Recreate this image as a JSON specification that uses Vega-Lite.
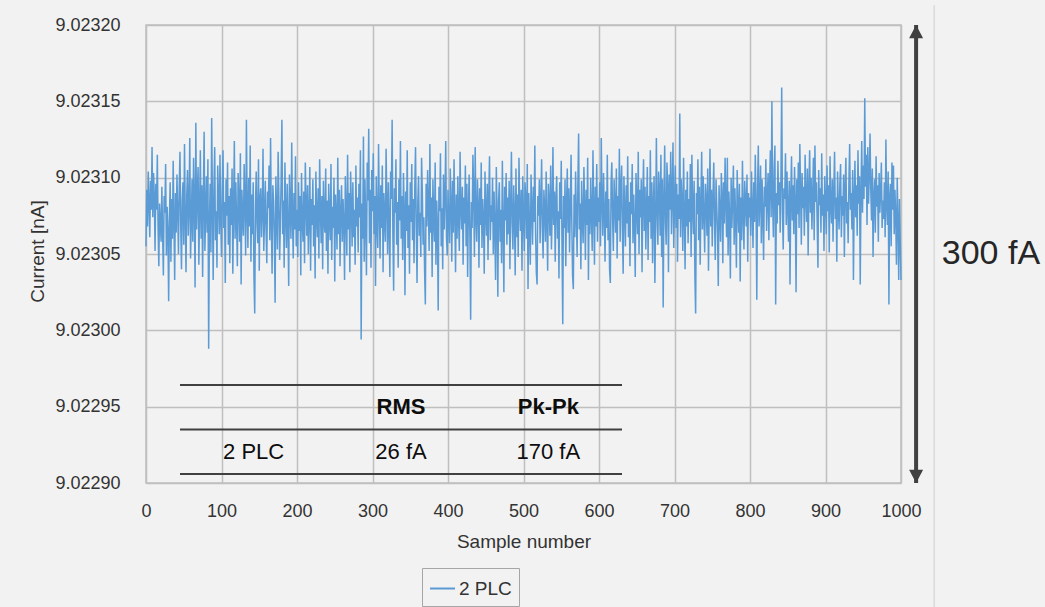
{
"$schema": "https://vega.github.io/schema/vega-lite/v6.json",
"width": 755,
"height": 458,
"autosize": {"type": "none"},
"padding": {"left": 146, "top": 25, "right": 144, "bottom": 124},
"background": "#f2f2f2",
"config": {"view": {"stroke": "#bfbfbf", "strokeWidth": 1.5}, "font": "Liberation Sans"},
"datasets": {
"trace": [
{"s":0,"c":9.023055},{"s":1,"c":9.023092},{"s":2,"c":9.023068},{"s":3,"c":9.023104},{"s":4,"c":9.023084},{"s":5,"c":9.023061},{"s":6,"c":9.023098},{"s":7,"c":9.023079},{"s":8,"c":9.02312},{"s":9,"c":9.023074},{"s":10,"c":9.023103},{"s":11,"c":9.023088},{"s":12,"c":9.023052},{"s":13,"c":9.023096},{"s":14,"c":9.023079},{"s":15,"c":9.023115},{"s":16,"c":9.023067},{"s":17,"c":9.023042},{"s":18,"c":9.023083},{"s":19,"c":9.023071},
{"s":20,"c":9.023058},{"s":21,"c":9.023094},{"s":22,"c":9.023063},{"s":23,"c":9.023036},{"s":24,"c":9.023088},{"s":25,"c":9.023077},{"s":26,"c":9.023109},{"s":27,"c":9.023049},{"s":28,"c":9.023081},{"s":29,"c":9.023066},{"s":30,"c":9.023019},{"s":31,"c":9.023072},{"s":32,"c":9.023097},{"s":33,"c":9.023045},{"s":34,"c":9.023086},{"s":35,"c":9.02306},{"s":36,"c":9.023111},{"s":37,"c":9.023071},{"s":38,"c":9.023033},{"s":39,"c":9.02309},
{"s":40,"c":9.023064},{"s":41,"c":9.023102},{"s":42,"c":9.023078},{"s":43,"c":9.02305},{"s":44,"c":9.023093},{"s":45,"c":9.023117},{"s":46,"c":9.023069},{"s":47,"c":9.02304},{"s":48,"c":9.023085},{"s":49,"c":9.023097},{"s":50,"c":9.023056},{"s":51,"c":9.023122},{"s":52,"c":9.023074},{"s":53,"c":9.023038},{"s":54,"c":9.023089},{"s":55,"c":9.023105},{"s":56,"c":9.023062},{"s":57,"c":9.023081},{"s":58,"c":9.023126},{"s":59,"c":9.023047},
{"s":60,"c":9.02307},{"s":61,"c":9.023099},{"s":62,"c":9.023058},{"s":63,"c":9.023113},{"s":64,"c":9.023084},{"s":65,"c":9.023028},{"s":66,"c":9.023136},{"s":67,"c":9.023066},{"s":68,"c":9.023091},{"s":69,"c":9.023107},{"s":70,"c":9.023043},{"s":71,"c":9.02308},{"s":72,"c":9.023118},{"s":73,"c":9.02306},{"s":74,"c":9.023095},{"s":75,"c":9.023035},{"s":76,"c":9.023087},{"s":77,"c":9.02313},{"s":78,"c":9.023052},{"s":79,"c":9.023076},
{"s":80,"c":9.023101},{"s":81,"c":9.023064},{"s":82,"c":9.023112},{"s":83,"c":9.022988},{"s":84,"c":9.02307},{"s":85,"c":9.023096},{"s":86,"c":9.023051},{"s":87,"c":9.023139},{"s":88,"c":9.023082},{"s":89,"c":9.023033},{"s":90,"c":9.023094},{"s":91,"c":9.02312},{"s":92,"c":9.023059},{"s":93,"c":9.023078},{"s":94,"c":9.023041},{"s":95,"c":9.023108},{"s":96,"c":9.023086},{"s":97,"c":9.023063},{"s":98,"c":9.023115},{"s":99,"c":9.023072},
{"s":100,"c":9.023048},{"s":101,"c":9.02309},{"s":102,"c":9.023118},{"s":103,"c":9.023067},{"s":104,"c":9.023084},{"s":105,"c":9.023031},{"s":106,"c":9.023099},{"s":107,"c":9.023075},{"s":108,"c":9.02311},{"s":109,"c":9.023056},{"s":110,"c":9.023088},{"s":111,"c":9.023044},{"s":112,"c":9.023093},{"s":113,"c":9.023069},{"s":114,"c":9.023106},{"s":115,"c":9.023037},{"s":116,"c":9.02308},{"s":117,"c":9.023124},{"s":118,"c":9.02306},{"s":119,"c":9.023097},
{"s":120,"c":9.023071},{"s":121,"c":9.023042},{"s":122,"c":9.023103},{"s":123,"c":9.023085},{"s":124,"c":9.023058},{"s":125,"c":9.023116},{"s":126,"c":9.02303},{"s":127,"c":9.023092},{"s":128,"c":9.023074},{"s":129,"c":9.023062},{"s":130,"c":9.023109},{"s":131,"c":9.023083},{"s":132,"c":9.023049},{"s":133,"c":9.023138},{"s":134,"c":9.023077},{"s":135,"c":9.023054},{"s":136,"c":9.0231},{"s":137,"c":9.023068},{"s":138,"c":9.023121},{"s":139,"c":9.023045},
{"s":140,"c":9.023089},{"s":141,"c":9.023063},{"s":142,"c":9.023097},{"s":143,"c":9.023035},{"s":144,"c":9.023011},{"s":145,"c":9.023082},{"s":146,"c":9.023104},{"s":147,"c":9.02307},{"s":148,"c":9.023057},{"s":149,"c":9.023112},{"s":150,"c":9.023039},{"s":151,"c":9.023086},{"s":152,"c":9.023093},{"s":153,"c":9.023061},{"s":154,"c":9.023077},{"s":155,"c":9.023119},{"s":156,"c":9.023052},{"s":157,"c":9.023073},{"s":158,"c":9.023098},{"s":159,"c":9.023066},
{"s":160,"c":9.023044},{"s":161,"c":9.023091},{"s":162,"c":9.02308},{"s":163,"c":9.023108},{"s":164,"c":9.023059},{"s":165,"c":9.023126},{"s":166,"c":9.023072},{"s":167,"c":9.023037},{"s":168,"c":9.023095},{"s":169,"c":9.023084},{"s":170,"c":9.023062},{"s":171,"c":9.023018},{"s":172,"c":9.023101},{"s":173,"c":9.023076},{"s":174,"c":9.023053},{"s":175,"c":9.023117},{"s":176,"c":9.023088},{"s":177,"c":9.023046},{"s":178,"c":9.02307},{"s":179,"c":9.023099},
{"s":180,"c":9.023138},{"s":181,"c":9.023063},{"s":182,"c":9.023085},{"s":183,"c":9.023041},{"s":184,"c":9.02311},{"s":185,"c":9.023077},{"s":186,"c":9.023054},{"s":187,"c":9.023096},{"s":188,"c":9.023068},{"s":189,"c":9.023029},{"s":190,"c":9.023102},{"s":191,"c":9.023081},{"s":192,"c":9.02306},{"s":193,"c":9.023123},{"s":194,"c":9.023074},{"s":195,"c":9.023047},{"s":196,"c":9.02309},{"s":197,"c":9.023066},{"s":198,"c":9.023114},{"s":199,"c":9.023055},
{"s":200,"c":9.023079},{"s":201,"c":9.023048},{"s":202,"c":9.023097},{"s":203,"c":9.023065},{"s":204,"c":9.023088},{"s":205,"c":9.023036},{"s":206,"c":9.023103},{"s":207,"c":9.023072},{"s":208,"c":9.023058},{"s":209,"c":9.023091},{"s":210,"c":9.023044},{"s":211,"c":9.02311},{"s":212,"c":9.023083},{"s":213,"c":9.023062},{"s":214,"c":9.023095},{"s":215,"c":9.02305},{"s":216,"c":9.023076},{"s":217,"c":9.023107},{"s":218,"c":9.023039},{"s":219,"c":9.023086},
{"s":220,"c":9.023069},{"s":221,"c":9.023099},{"s":222,"c":9.023055},{"s":223,"c":9.023082},{"s":224,"c":9.023034},{"s":225,"c":9.023104},{"s":226,"c":9.023074},{"s":227,"c":9.023061},{"s":228,"c":9.023093},{"s":229,"c":9.023047},{"s":230,"c":9.023112},{"s":231,"c":9.02308},{"s":232,"c":9.023057},{"s":233,"c":9.023088},{"s":234,"c":9.02304},{"s":235,"c":9.023098},{"s":236,"c":9.023071},{"s":237,"c":9.023064},{"s":238,"c":9.023106},{"s":239,"c":9.023052},
{"s":240,"c":9.023085},{"s":241,"c":9.023037},{"s":242,"c":9.023096},{"s":243,"c":9.023073},{"s":244,"c":9.023059},{"s":245,"c":9.023109},{"s":246,"c":9.023046},{"s":247,"c":9.023081},{"s":248,"c":9.023067},{"s":249,"c":9.0231},{"s":250,"c":9.023032},{"s":251,"c":9.023089},{"s":252,"c":9.023075},{"s":253,"c":9.023053},{"s":254,"c":9.023113},{"s":255,"c":9.023063},{"s":256,"c":9.023092},{"s":257,"c":9.023042},{"s":258,"c":9.023078},{"s":259,"c":9.023095},
{"s":260,"c":9.023058},{"s":261,"c":9.023086},{"s":262,"c":9.02307},{"s":263,"c":9.023033},{"s":264,"c":9.023101},{"s":265,"c":9.023077},{"s":266,"c":9.023049},{"s":267,"c":9.023115},{"s":268,"c":9.023066},{"s":269,"c":9.02309},{"s":270,"c":9.023038},{"s":271,"c":9.023104},{"s":272,"c":9.023082},{"s":273,"c":9.023055},{"s":274,"c":9.023097},{"s":275,"c":9.023061},{"s":276,"c":9.023079},{"s":277,"c":9.023043},{"s":278,"c":9.023108},{"s":279,"c":9.023068},
{"s":280,"c":9.023087},{"s":281,"c":9.023051},{"s":282,"c":9.023096},{"s":283,"c":9.023074},{"s":284,"c":9.023118},{"s":285,"c":9.022994},{"s":286,"c":9.023083},{"s":287,"c":9.02306},{"s":288,"c":9.023127},{"s":289,"c":9.023045},{"s":290,"c":9.023099},{"s":291,"c":9.023072},{"s":292,"c":9.023036},{"s":293,"c":9.02311},{"s":294,"c":9.023085},{"s":295,"c":9.023132},{"s":296,"c":9.023057},{"s":297,"c":9.023092},{"s":298,"c":9.023041},{"s":299,"c":9.023105},
{"s":300,"c":9.023078},{"s":301,"c":9.023116},{"s":302,"c":9.023063},{"s":303,"c":9.023088},{"s":304,"c":9.023029},{"s":305,"c":9.023101},{"s":306,"c":9.02307},{"s":307,"c":9.023054},{"s":308,"c":9.023122},{"s":309,"c":9.023081},{"s":310,"c":9.023047},{"s":311,"c":9.023095},{"s":312,"c":9.023067},{"s":313,"c":9.023108},{"s":314,"c":9.023038},{"s":315,"c":9.02309},{"s":316,"c":9.023074},{"s":317,"c":9.023058},{"s":318,"c":9.023119},{"s":319,"c":9.023083},
{"s":320,"c":9.02305},{"s":321,"c":9.023097},{"s":322,"c":9.023069},{"s":323,"c":9.023035},{"s":324,"c":9.023104},{"s":325,"c":9.023086},{"s":326,"c":9.023138},{"s":327,"c":9.023062},{"s":328,"c":9.023026},{"s":329,"c":9.023093},{"s":330,"c":9.023077},{"s":331,"c":9.023112},{"s":332,"c":9.023056},{"s":333,"c":9.023084},{"s":334,"c":9.023041},{"s":335,"c":9.023099},{"s":336,"c":9.023072},{"s":337,"c":9.023124},{"s":338,"c":9.02306},{"s":339,"c":9.023088},
{"s":340,"c":9.023046},{"s":341,"c":9.023103},{"s":342,"c":9.023079},{"s":343,"c":9.023023},{"s":344,"c":9.023091},{"s":345,"c":9.023065},{"s":346,"c":9.023118},{"s":347,"c":9.023054},{"s":348,"c":9.023082},{"s":349,"c":9.023037},{"s":350,"c":9.023097},{"s":351,"c":9.023071},{"s":352,"c":9.023109},{"s":353,"c":9.023059},{"s":354,"c":9.023086},{"s":355,"c":9.023044},{"s":356,"c":9.023093},{"s":357,"c":9.02312},{"s":358,"c":9.023067},{"s":359,"c":9.023031},
{"s":360,"c":9.023084},{"s":361,"c":9.023101},{"s":362,"c":9.023062},{"s":363,"c":9.023077},{"s":364,"c":9.023048},{"s":365,"c":9.023113},{"s":366,"c":9.02309},{"s":367,"c":9.023056},{"s":368,"c":9.023074},{"s":369,"c":9.023039},{"s":370,"c":9.023017},{"s":371,"c":9.023096},{"s":372,"c":9.023068},{"s":373,"c":9.023105},{"s":374,"c":9.023081},{"s":375,"c":9.023052},{"s":376,"c":9.023122},{"s":377,"c":9.023064},{"s":378,"c":9.023087},{"s":379,"c":9.023035},
{"s":380,"c":9.023099},{"s":381,"c":9.023073},{"s":382,"c":9.023058},{"s":383,"c":9.02311},{"s":384,"c":9.023043},{"s":385,"c":9.023085},{"s":386,"c":9.023069},{"s":387,"c":9.023013},{"s":388,"c":9.023094},{"s":389,"c":9.023078},{"s":390,"c":9.023116},{"s":391,"c":9.023055},{"s":392,"c":9.02308},{"s":393,"c":9.02304},{"s":394,"c":9.023102},{"s":395,"c":9.023066},{"s":396,"c":9.023088},{"s":397,"c":9.023124},{"s":398,"c":9.023061},{"s":399,"c":9.023049},
{"s":400,"c":9.023092},{"s":401,"c":9.023071},{"s":402,"c":9.023057},{"s":403,"c":9.023106},{"s":404,"c":9.023083},{"s":405,"c":9.023045},{"s":406,"c":9.023098},{"s":407,"c":9.023064},{"s":408,"c":9.023112},{"s":409,"c":9.023076},{"s":410,"c":9.023038},{"s":411,"c":9.023089},{"s":412,"c":9.02306},{"s":413,"c":9.023101},{"s":414,"c":9.023073},{"s":415,"c":9.023052},{"s":416,"c":9.023117},{"s":417,"c":9.02308},{"s":418,"c":9.023066},{"s":419,"c":9.023094},
{"s":420,"c":9.023043},{"s":421,"c":9.023087},{"s":422,"c":9.02307},{"s":423,"c":9.023108},{"s":424,"c":9.023055},{"s":425,"c":9.023096},{"s":426,"c":9.023035},{"s":427,"c":9.023079},{"s":428,"c":9.023102},{"s":429,"c":9.023061},{"s":430,"c":9.023007},{"s":431,"c":9.023084},{"s":432,"c":9.023067},{"s":433,"c":9.023115},{"s":434,"c":9.02309},{"s":435,"c":9.023048},{"s":436,"c":9.02312},{"s":437,"c":9.023074},{"s":438,"c":9.023058},{"s":439,"c":9.023099},
{"s":440,"c":9.023081},{"s":441,"c":9.023041},{"s":442,"c":9.023093},{"s":443,"c":9.023069},{"s":444,"c":9.02311},{"s":445,"c":9.023054},{"s":446,"c":9.023086},{"s":447,"c":9.023073},{"s":448,"c":9.023037},{"s":449,"c":9.023104},{"s":450,"c":9.023077},{"s":451,"c":9.023062},{"s":452,"c":9.023096},{"s":453,"c":9.023046},{"s":454,"c":9.023088},{"s":455,"c":9.023114},{"s":456,"c":9.023059},{"s":457,"c":9.023082},{"s":458,"c":9.023071},{"s":459,"c":9.0231},
{"s":460,"c":9.02305},{"s":461,"c":9.023091},{"s":462,"c":9.023066},{"s":463,"c":9.023033},{"s":464,"c":9.023107},{"s":465,"c":9.023075},{"s":466,"c":9.023022},{"s":467,"c":9.023085},{"s":468,"c":9.023097},{"s":469,"c":9.023058},{"s":470,"c":9.023079},{"s":471,"c":9.023044},{"s":472,"c":9.023111},{"s":473,"c":9.023068},{"s":474,"c":9.023025},{"s":475,"c":9.023094},{"s":476,"c":9.023072},{"s":477,"c":9.023103},{"s":478,"c":9.023056},{"s":479,"c":9.023087},
{"s":480,"c":9.023063},{"s":481,"c":9.023098},{"s":482,"c":9.02304},{"s":483,"c":9.023082},{"s":484,"c":9.023117},{"s":485,"c":9.02307},{"s":486,"c":9.023053},{"s":487,"c":9.023095},{"s":488,"c":9.023076},{"s":489,"c":9.023036},{"s":490,"c":9.023106},{"s":491,"c":9.023061},{"s":492,"c":9.023089},{"s":493,"c":9.023048},{"s":494,"c":9.023113},{"s":495,"c":9.02308},{"s":496,"c":9.023065},{"s":497,"c":9.023092},{"s":498,"c":9.023039},{"s":499,"c":9.023101},
{"s":500,"c":9.023074},{"s":501,"c":9.023052},{"s":502,"c":9.023097},{"s":503,"c":9.023085},{"s":504,"c":9.02306},{"s":505,"c":9.023109},{"s":506,"c":9.023027},{"s":507,"c":9.02309},{"s":508,"c":9.023068},{"s":509,"c":9.023043},{"s":510,"c":9.023102},{"s":511,"c":9.023079},{"s":512,"c":9.023056},{"s":513,"c":9.023094},{"s":514,"c":9.023071},{"s":515,"c":9.023121},{"s":516,"c":9.023064},{"s":517,"c":9.023038},{"s":518,"c":9.02303},{"s":519,"c":9.023088},
{"s":520,"c":9.023075},{"s":521,"c":9.023099},{"s":522,"c":9.023057},{"s":523,"c":9.023083},{"s":524,"c":9.023112},{"s":525,"c":9.023066},{"s":526,"c":9.023047},{"s":527,"c":9.023092},{"s":528,"c":9.02308},{"s":529,"c":9.023058},{"s":530,"c":9.023104},{"s":531,"c":9.023071},{"s":532,"c":9.023039},{"s":533,"c":9.023096},{"s":534,"c":9.023084},{"s":535,"c":9.023062},{"s":536,"c":9.023108},{"s":537,"c":9.023053},{"s":538,"c":9.023077},{"s":539,"c":9.02312},
{"s":540,"c":9.023069},{"s":541,"c":9.023091},{"s":542,"c":9.023045},{"s":543,"c":9.023086},{"s":544,"c":9.023101},{"s":545,"c":9.02306},{"s":546,"c":9.023078},{"s":547,"c":9.023034},{"s":548,"c":9.023097},{"s":549,"c":9.023073},{"s":550,"c":9.023111},{"s":551,"c":9.023056},{"s":552,"c":9.023004},{"s":553,"c":9.023088},{"s":554,"c":9.023067},{"s":555,"c":9.023099},{"s":556,"c":9.023042},{"s":557,"c":9.023082},{"s":558,"c":9.023106},{"s":559,"c":9.023064},
{"s":560,"c":9.023093},{"s":561,"c":9.023051},{"s":562,"c":9.023079},{"s":563,"c":9.023115},{"s":564,"c":9.02307},{"s":565,"c":9.023036},{"s":566,"c":9.023027},{"s":567,"c":9.023089},{"s":568,"c":9.023061},{"s":569,"c":9.023104},{"s":570,"c":9.023076},{"s":571,"c":9.023048},{"s":572,"c":9.023095},{"s":573,"c":9.023129},{"s":574,"c":9.023066},{"s":575,"c":9.023083},{"s":576,"c":9.02304},{"s":577,"c":9.023098},{"s":578,"c":9.023072},{"s":579,"c":9.023057},
{"s":580,"c":9.023107},{"s":581,"c":9.023081},{"s":582,"c":9.023046},{"s":583,"c":9.023092},{"s":584,"c":9.023069},{"s":585,"c":9.023113},{"s":586,"c":9.023033},{"s":587,"c":9.023086},{"s":588,"c":9.023063},{"s":589,"c":9.0231},{"s":590,"c":9.023075},{"s":591,"c":9.023052},{"s":592,"c":9.023118},{"s":593,"c":9.02308},{"s":594,"c":9.023043},{"s":595,"c":9.023094},{"s":596,"c":9.023068},{"s":597,"c":9.023109},{"s":598,"c":9.023058},{"s":599,"c":9.023087},
{"s":600,"c":9.023071},{"s":601,"c":9.023097},{"s":602,"c":9.023055},{"s":603,"c":9.023126},{"s":604,"c":9.023084},{"s":605,"c":9.023062},{"s":606,"c":9.023103},{"s":607,"c":9.023078},{"s":608,"c":9.023045},{"s":609,"c":9.023091},{"s":610,"c":9.023067},{"s":611,"c":9.023115},{"s":612,"c":9.023059},{"s":613,"c":9.023086},{"s":614,"c":9.02304},{"s":615,"c":9.023031},{"s":616,"c":9.023096},{"s":617,"c":9.02311},{"s":618,"c":9.023073},{"s":619,"c":9.023052},
{"s":620,"c":9.023099},{"s":621,"c":9.023082},{"s":622,"c":9.023064},{"s":623,"c":9.023106},{"s":624,"c":9.023047},{"s":625,"c":9.023088},{"s":626,"c":9.023072},{"s":627,"c":9.023119},{"s":628,"c":9.023058},{"s":629,"c":9.023093},{"s":630,"c":9.023108},{"s":631,"c":9.023066},{"s":632,"c":9.023037},{"s":633,"c":9.023101},{"s":634,"c":9.023079},{"s":635,"c":9.023055},{"s":636,"c":9.023095},{"s":637,"c":9.02307},{"s":638,"c":9.023114},{"s":639,"c":9.023061},
{"s":640,"c":9.023084},{"s":641,"c":9.023042},{"s":642,"c":9.023097},{"s":643,"c":9.023076},{"s":644,"c":9.023109},{"s":645,"c":9.023057},{"s":646,"c":9.023089},{"s":647,"c":9.023068},{"s":648,"c":9.023035},{"s":649,"c":9.023103},{"s":650,"c":9.023081},{"s":651,"c":9.023063},{"s":652,"c":9.023117},{"s":653,"c":9.02305},{"s":654,"c":9.023092},{"s":655,"c":9.023074},{"s":656,"c":9.023099},{"s":657,"c":9.023038},{"s":658,"c":9.023086},{"s":659,"c":9.023112},
{"s":660,"c":9.023065},{"s":661,"c":9.023094},{"s":662,"c":9.023053},{"s":663,"c":9.02308},{"s":664,"c":9.023107},{"s":665,"c":9.023046},{"s":666,"c":9.023088},{"s":667,"c":9.023071},{"s":668,"c":9.023118},{"s":669,"c":9.02306},{"s":670,"c":9.023097},{"s":671,"c":9.023044},{"s":672,"c":9.023083},{"s":673,"c":9.023101},{"s":674,"c":9.023031},{"s":675,"c":9.023069},{"s":676,"c":9.023126},{"s":677,"c":9.023077},{"s":678,"c":9.023056},{"s":679,"c":9.023104},
{"s":680,"c":9.02309},{"s":681,"c":9.023062},{"s":682,"c":9.023115},{"s":683,"c":9.023048},{"s":684,"c":9.023099},{"s":685,"c":9.023015},{"s":686,"c":9.023084},{"s":687,"c":9.023121},{"s":688,"c":9.023071},{"s":689,"c":9.023056},{"s":690,"c":9.02311},{"s":691,"c":9.023094},{"s":692,"c":9.023038},{"s":693,"c":9.023102},{"s":694,"c":9.023079},{"s":695,"c":9.023117},{"s":696,"c":9.023063},{"s":697,"c":9.023088},{"s":698,"c":9.023123},{"s":699,"c":9.023054},
{"s":700,"c":9.023082},{"s":701,"c":9.023108},{"s":702,"c":9.023067},{"s":703,"c":9.023096},{"s":704,"c":9.023045},{"s":705,"c":9.023089},{"s":706,"c":9.023073},{"s":707,"c":9.023142},{"s":708,"c":9.023061},{"s":709,"c":9.023099},{"s":710,"c":9.023084},{"s":711,"c":9.023052},{"s":712,"c":9.023113},{"s":713,"c":9.023077},{"s":714,"c":9.02304},{"s":715,"c":9.023092},{"s":716,"c":9.023068},{"s":717,"c":9.023104},{"s":718,"c":9.023057},{"s":719,"c":9.023086},
{"s":720,"c":9.023071},{"s":721,"c":9.023109},{"s":722,"c":9.023048},{"s":723,"c":9.023115},{"s":724,"c":9.02308},{"s":725,"c":9.023063},{"s":726,"c":9.023098},{"s":727,"c":9.023036},{"s":728,"c":9.023011},{"s":729,"c":9.02309},{"s":730,"c":9.023076},{"s":731,"c":9.023112},{"s":732,"c":9.023059},{"s":733,"c":9.023094},{"s":734,"c":9.023043},{"s":735,"c":9.023083},{"s":736,"c":9.023117},{"s":737,"c":9.023066},{"s":738,"c":9.023101},{"s":739,"c":9.023074},
{"s":740,"c":9.023051},{"s":741,"c":9.023096},{"s":742,"c":9.023085},{"s":743,"c":9.023062},{"s":744,"c":9.023106},{"s":745,"c":9.023039},{"s":746,"c":9.023079},{"s":747,"c":9.023119},{"s":748,"c":9.023068},{"s":749,"c":9.023092},{"s":750,"c":9.023055},{"s":751,"c":9.023087},{"s":752,"c":9.02311},{"s":753,"c":9.023073},{"s":754,"c":9.023046},{"s":755,"c":9.023099},{"s":756,"c":9.023081},{"s":757,"c":9.023064},{"s":758,"c":9.023029},{"s":759,"c":9.023095},
{"s":760,"c":9.023077},{"s":761,"c":9.023058},{"s":762,"c":9.023103},{"s":763,"c":9.023088},{"s":764,"c":9.023044},{"s":765,"c":9.023097},{"s":766,"c":9.02307},{"s":767,"c":9.023113},{"s":768,"c":9.023083},{"s":769,"c":9.023061},{"s":770,"c":9.023113},{"s":771,"c":9.023049},{"s":772,"c":9.023091},{"s":773,"c":9.023075},{"s":774,"c":9.023034},{"s":775,"c":9.0231},{"s":776,"c":9.023067},{"s":777,"c":9.023086},{"s":778,"c":9.023108},{"s":779,"c":9.023056},
{"s":780,"c":9.023093},{"s":781,"c":9.023072},{"s":782,"c":9.023041},{"s":783,"c":9.023105},{"s":784,"c":9.02308},{"s":785,"c":9.023064},{"s":786,"c":9.023096},{"s":787,"c":9.023032},{"s":788,"c":9.023087},{"s":789,"c":9.023059},{"s":790,"c":9.023111},{"s":791,"c":9.023076},{"s":792,"c":9.023053},{"s":793,"c":9.023098},{"s":794,"c":9.023084},{"s":795,"c":9.023068},{"s":796,"c":9.023102},{"s":797,"c":9.023045},{"s":798,"c":9.02309},{"s":799,"c":9.023074},
{"s":800,"c":9.023087},{"s":801,"c":9.023062},{"s":802,"c":9.023104},{"s":803,"c":9.023079},{"s":804,"c":9.023054},{"s":805,"c":9.023097},{"s":806,"c":9.023071},{"s":807,"c":9.023115},{"s":808,"c":9.023083},{"s":809,"c":9.02302},{"s":810,"c":9.023092},{"s":811,"c":9.023121},{"s":812,"c":9.023068},{"s":813,"c":9.023085},{"s":814,"c":9.023108},{"s":815,"c":9.023057},{"s":816,"c":9.023099},{"s":817,"c":9.023076},{"s":818,"c":9.023046},{"s":819,"c":9.023094},
{"s":820,"c":9.023081},{"s":821,"c":9.023112},{"s":822,"c":9.023065},{"s":823,"c":9.023088},{"s":824,"c":9.023103},{"s":825,"c":9.023059},{"s":826,"c":9.023096},{"s":827,"c":9.023118},{"s":828,"c":9.023074},{"s":829,"c":9.02315},{"s":830,"c":9.023084},{"s":831,"c":9.023061},{"s":832,"c":9.023106},{"s":833,"c":9.023121},{"s":834,"c":9.023017},{"s":835,"c":9.02309},{"s":836,"c":9.02307},{"s":837,"c":9.023111},{"s":838,"c":9.023082},{"s":839,"c":9.023097},
{"s":840,"c":9.023064},{"s":841,"c":9.023101},{"s":842,"c":9.023159},{"s":843,"c":9.023078},{"s":844,"c":9.023053},{"s":845,"c":9.023093},{"s":846,"c":9.023086},{"s":847,"c":9.023116},{"s":848,"c":9.023069},{"s":849,"c":9.023104},{"s":850,"c":9.023081},{"s":851,"c":9.023058},{"s":852,"c":9.023098},{"s":853,"c":9.02303},{"s":854,"c":9.023089},{"s":855,"c":9.023114},{"s":856,"c":9.023072},{"s":857,"c":9.023095},{"s":858,"c":9.023063},{"s":859,"c":9.023107},
{"s":860,"c":9.023084},{"s":861,"c":9.023025},{"s":862,"c":9.023099},{"s":863,"c":9.023076},{"s":864,"c":9.02311},{"s":865,"c":9.023067},{"s":866,"c":9.023122},{"s":867,"c":9.023091},{"s":868,"c":9.023056},{"s":869,"c":9.023103},{"s":870,"c":9.02308},{"s":871,"c":9.023094},{"s":872,"c":9.023062},{"s":873,"c":9.023115},{"s":874,"c":9.023087},{"s":875,"c":9.023071},{"s":876,"c":9.023106},{"s":877,"c":9.023049},{"s":878,"c":9.023092},{"s":879,"c":9.023118},
{"s":880,"c":9.023077},{"s":881,"c":9.0231},{"s":882,"c":9.023066},{"s":883,"c":9.023088},{"s":884,"c":9.023113},{"s":885,"c":9.023059},{"s":886,"c":9.023121},{"s":887,"c":9.023084},{"s":888,"c":9.023097},{"s":889,"c":9.02307},{"s":890,"c":9.023041},{"s":891,"c":9.023105},{"s":892,"c":9.023082},{"s":893,"c":9.023093},{"s":894,"c":9.023064},{"s":895,"c":9.023116},{"s":896,"c":9.023075},{"s":897,"c":9.023089},{"s":898,"c":9.023052},{"s":899,"c":9.023101},
{"s":900,"c":9.023086},{"s":901,"c":9.023063},{"s":902,"c":9.023108},{"s":903,"c":9.023078},{"s":904,"c":9.023095},{"s":905,"c":9.023051},{"s":906,"c":9.023114},{"s":907,"c":9.023082},{"s":908,"c":9.02307},{"s":909,"c":9.023099},{"s":910,"c":9.023058},{"s":911,"c":9.023091},{"s":912,"c":9.023117},{"s":913,"c":9.023073},{"s":914,"c":9.023087},{"s":915,"c":9.023045},{"s":916,"c":9.023104},{"s":917,"c":9.02308},{"s":918,"c":9.023066},{"s":919,"c":9.023096},
{"s":920,"c":9.023109},{"s":921,"c":9.023061},{"s":922,"c":9.023088},{"s":923,"c":9.023075},{"s":924,"c":9.023102},{"s":925,"c":9.023048},{"s":926,"c":9.023093},{"s":927,"c":9.023113},{"s":928,"c":9.02307},{"s":929,"c":9.023084},{"s":930,"c":9.023057},{"s":931,"c":9.023097},{"s":932,"c":9.023122},{"s":933,"c":9.023079},{"s":934,"c":9.02309},{"s":935,"c":9.023066},{"s":936,"c":9.023105},{"s":937,"c":9.023033},{"s":938,"c":9.023086},{"s":939,"c":9.023111},
{"s":940,"c":9.023074},{"s":941,"c":9.023095},{"s":942,"c":9.023062},{"s":943,"c":9.023118},{"s":944,"c":9.023083},{"s":945,"c":9.023101},{"s":946,"c":9.02303},{"s":947,"c":9.02309},{"s":948,"c":9.023124},{"s":949,"c":9.023077},{"s":950,"c":9.023108},{"s":951,"c":9.023086},{"s":952,"c":9.023152},{"s":953,"c":9.023094},{"s":954,"c":9.023115},{"s":955,"c":9.023069},{"s":956,"c":9.02312},{"s":957,"c":9.023083},{"s":958,"c":9.023101},{"s":959,"c":9.023129},
{"s":960,"c":9.023092},{"s":961,"c":9.023072},{"s":962,"c":9.023106},{"s":963,"c":9.023048},{"s":964,"c":9.023088},{"s":965,"c":9.023099},{"s":966,"c":9.023064},{"s":967,"c":9.023114},{"s":968,"c":9.023081},{"s":969,"c":9.023095},{"s":970,"c":9.023058},{"s":971,"c":9.023103},{"s":972,"c":9.023077},{"s":973,"c":9.023091},{"s":974,"c":9.02311},{"s":975,"c":9.023067},{"s":976,"c":9.023085},{"s":977,"c":9.023073},{"s":978,"c":9.023097},{"s":979,"c":9.023061},
{"s":980,"c":9.023125},{"s":981,"c":9.023082},{"s":982,"c":9.023069},{"s":983,"c":9.023104},{"s":984,"c":9.023017},{"s":985,"c":9.023088},{"s":986,"c":9.023096},{"s":987,"c":9.023055},{"s":988,"c":9.02311},{"s":989,"c":9.023079},{"s":990,"c":9.023108},{"s":991,"c":9.023063},{"s":992,"c":9.023092},{"s":993,"c":9.023074},{"s":994,"c":9.023043},{"s":995,"c":9.0231},{"s":996,"c":9.023071},{"s":997,"c":9.023033},{"s":998,"c":9.023086},{"s":999,"c":9.023058},
{"s":1000,"c":9.023033}
],
"span": [{"label": "300 fA", "top": 9.0232, "bottom": 9.0229}],
"table": [
{"row": "head", "col": "RMS", "text": "RMS"},
{"row": "head", "col": "Pk-Pk", "text": "Pk-Pk"},
{"row": "data", "col": "Setting", "text": "2 PLC"},
{"row": "data", "col": "RMS", "text": "26 fA"},
{"row": "data", "col": "Pk-Pk", "text": "170 fA"}
],
"tableRules": [
{"line": "top", "from": "Setting", "to": "Pk-Pk"},
{"line": "mid", "from": "Setting", "to": "Pk-Pk"},
{"line": "bottom", "from": "Setting", "to": "Pk-Pk"}
]
},
"resolve": {"scale": {"x": "independent", "y": "independent"}},
"layer": [
{
"layer": [
{
"data": {"name": "trace"},
"mark": {"type": "line", "strokeWidth": 1.5},
"encoding": {
"x": {"field": "s", "type": "quantitative", "scale": {"domain": [0, 1000], "nice": false},
"axis": {"values": [0,100,200,300,400,500,600,700,800,900,1000], "format": "d", "title": "Sample number", "domain": false, "ticks": false, "grid": true, "gridColor": "#bfbfbf", "gridWidth": 1.5, "labelFlush": false, "labelOverlap": false, "labelFont": "Liberation Sans", "labelFontSize": 18, "labelColor": "#333333", "labelPadding": 19, "titleFont": "Liberation Sans", "titleFontSize": 19, "titleFontWeight": "normal", "titleColor": "#333333", "titleY": 58, "titleBaseline": "middle"}},
"y": {"field": "c", "type": "quantitative", "scale": {"domain": [9.0229, 9.0232], "nice": false, "zero": false},
"axis": {"values": [9.0229, 9.02295, 9.023, 9.02305, 9.0231, 9.02315, 9.0232], "format": ".5f", "title": "Current [nA]", "domain": false, "ticks": false, "grid": true, "gridColor": "#bfbfbf", "gridWidth": 1.5, "labelOverlap": false, "labelFont": "Liberation Sans", "labelFontSize": 18, "labelColor": "#333333", "labelPadding": 26, "titleFont": "Liberation Sans", "titleFontSize": 19, "titleFontWeight": "normal", "titleColor": "#333333", "titleX": -109, "titleY": 226, "titleAngle": -90, "titleAlign": "center", "titleBaseline": "middle"}},
"color": {"datum": "2 PLC", "type": "nominal", "scale": {"range": ["#5b9bd5"]},
"legend": {"orient": "none", "legendX": 276, "legendY": 543, "title": null, "symbolType": "stroke", "symbolSize": 625, "symbolStrokeWidth": 2, "labelFont": "Liberation Sans", "labelFontSize": 19, "labelColor": "#333333", "labelOffset": 3, "strokeColor": "#a6a6a6", "padding": 7}}
}
},
{
"data": {"name": "span"},
"mark": {"type": "rule", "color": "#404040", "strokeWidth": 4},
"encoding": {"x": {"datum": 1020}, "y": {"field": "top", "type": "quantitative"}, "y2": {"field": "bottom"}}
},
{
"data": {"name": "span"},
"mark": {"type": "point", "shape": "M0,0L-1,1.9L1,1.9Z", "size": 196, "filled": true, "color": "#404040", "opacity": 1},
"encoding": {"x": {"datum": 1020}, "y": {"field": "top", "type": "quantitative"}}
},
{
"data": {"name": "span"},
"mark": {"type": "point", "shape": "M0,0L-1,-1.9L1,-1.9Z", "size": 196, "filled": true, "color": "#404040", "opacity": 1},
"encoding": {"x": {"datum": 1020}, "y": {"field": "bottom", "type": "quantitative"}}
},
{
"data": {"name": "span"},
"mark": {"type": "text", "align": "left", "baseline": "middle", "fontSize": 34, "color": "#262626", "font": "Liberation Sans"},
"encoding": {"x": {"datum": 1054}, "y": {"datum": 9.02305}, "text": {"field": "label"}}
},
{
"data": {"name": "span"},
"mark": {"type": "rule", "color": "#d9d9d9", "strokeWidth": 1.5},
"encoding": {"x": {"datum": 1044}, "y": {"datum": 9.023213}, "y2": {"datum": 9.02278}}
}
]
},
{
"layer": [
{
"data": {"name": "table"},
"transform": [{"filter": "datum.row === 'head'"}],
"mark": {"type": "text", "fontSize": 22, "fontWeight": "bold", "color": "#0d0d0d", "font": "Liberation Sans"},
"encoding": {
"x": {"field": "col", "type": "nominal", "scale": {"type": "band", "domain": ["Setting", "RMS", "Pk-Pk"], "range": [34, 476], "paddingInner": 0, "paddingOuter": 0}, "axis": null},
"y": {"field": "row", "type": "nominal", "scale": {"type": "point", "domain": ["top", "head", "mid", "data", "bottom"], "range": [360, 449], "padding": 0}, "axis": null},
"text": {"field": "text"}
}
},
{
"data": {"name": "table"},
"transform": [{"filter": "datum.row === 'data'"}],
"mark": {"type": "text", "fontSize": 22, "color": "#0d0d0d", "font": "Liberation Sans"},
"encoding": {
"x": {"field": "col", "type": "nominal", "axis": null},
"y": {"field": "row", "type": "nominal", "axis": null},
"text": {"field": "text"}
}
},
{
"data": {"name": "tableRules"},
"mark": {"type": "rule", "color": "#404040", "strokeWidth": 2},
"encoding": {
"x": {"field": "from", "type": "nominal", "bandPosition": 0, "axis": null},
"x2": {"field": "to", "bandPosition": 1},
"y": {"field": "line", "type": "nominal", "axis": null}
}
}
]
}
]
}
